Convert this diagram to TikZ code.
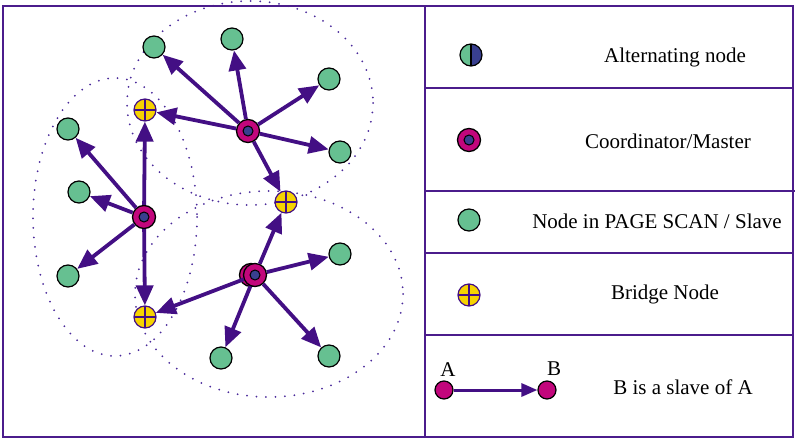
\documentclass[tikz,border=0pt]{standalone}
\usepackage{fontspec}
\setmainfont{Liberation Serif}
\usetikzlibrary{arrows.meta}
\definecolor{linkc}{HTML}{430F84}
\definecolor{rangec}{HTML}{4A2A9A}
\definecolor{slavec}{HTML}{66C091}
\definecolor{masterc}{HTML}{C2067C}
\definecolor{coreb}{HTML}{393F8F}
\definecolor{bridgec}{HTML}{F6D300}
\definecolor{framec}{HTML}{4B1C8C}

\begin{document}
\begin{tikzpicture}[x=1pt, y=-1pt,
    every node/.style={font=\fontsize{21}{24}\selectfont},
    slave/.style={circle, draw=black, fill=slavec, line width=1.2pt,
                  minimum size=22pt, inner sep=0pt},
    master/.style={circle, draw=black, fill=masterc, line width=1.3pt,
                   minimum size=23pt, inner sep=0pt,
                   path picture={\draw[fill=coreb, line width=1pt]
                     (path picture bounding box.center) circle (5pt);}},
    bridge/.style={circle, draw=linkc, fill=bridgec, line width=1.2pt,
                   minimum size=22pt, inner sep=0pt,
                   path picture={\draw[linkc, line width=1.2pt]
                     (path picture bounding box.north) -- (path picture bounding box.south)
                     (path picture bounding box.west) -- (path picture bounding box.east);}},
    alternating/.style={circle, draw=black, fill=slavec, line width=1.2pt,
                   minimum size=22pt, inner sep=0pt,
                   path picture={\fill[coreb] (path picture bounding box.north)
                     rectangle (path picture bounding box.south east);
                     \draw[line width=1.2pt] (path picture bounding box.north)
                     -- (path picture bounding box.south);}},
    link/.style={draw=linkc, line width=3.8pt, -{Triangle[length=20pt, width=17pt]}},
    radiorange/.style={draw=rangec, line width=2pt, line cap=round, dash pattern=on 0pt off 9.5pt},
    frameline/.style={draw=framec, line width=2pt}]
    \useasboundingbox (0,0) rectangle (800,444);

    % radio ranges
    \draw[radiorange] (250,103) ellipse [x radius=123, y radius=102];
    \draw[radiorange] (115,217) ellipse [x radius=82, y radius=139];
    \draw[radiorange] (269,294) ellipse [x radius=134, y radius=103];

    % frame and legend rows
    \draw[frameline] (3,6) rectangle (793,437);
    \draw[frameline] (425,6) -- (425,437);
    \draw[frameline] (425,88) -- (793,88);
    \draw[frameline] (425,191) -- (795,191);
    \draw[frameline] (425,253) -- (793,253);
    \draw[frameline] (425,335) -- (793,335);

    % masters
    \node[master] (m1) at (248,131) {};
    \node[master] (m2) at (144,217) {};
    \node[master] (m3s) at (251,275) {};
    \node[master] (m3) at (255,275) {};

    % bridges
    \node[bridge] (b1) at (145,110) {};
    \node[bridge] (b2) at (286,202) {};
    \node[bridge] (b3) at (145,317) {};

    % slaves
    \node[slave] (s1) at (154,47) {};
    \node[slave] (s2) at (232,39) {};
    \node[slave] (s3) at (329,79) {};
    \node[slave] (s4) at (340,152) {};
    \node[slave] (s5) at (68,129) {};
    \node[slave] (s6) at (79,192) {};
    \node[slave] (s7) at (68,276) {};
    \node[slave] (s8) at (340,254) {};
    \node[slave] (s9) at (221,358) {};
    \node[slave] (s10) at (329,356) {};

    % master -> slave links
    \foreach \t in {s1,s2,s3,s4,b1,b2}
        \draw[link] (m1) -- (\t);
    \foreach \t in {s5,s6,s7,b1,b3}
        \draw[link] (m2) -- (\t);
    \foreach \t in {b2,s8,s9,s10,b3}
        \draw[link] (m3) -- (\t);

    % legend
    \node[alternating] (kalt) at (471,55) {};
    \node (talt) at (675,57) {Alternating node};
    \node[master] (kmas) at (469,140) {};
    \node (tmas) at (668,141) {Coordinator/Master};
    \node[slave] (ksla) at (469,220) {};
    \node (tsla) at (657,221) {Node in PAGE SCAN / Slave};
    \node[bridge] (kbri) at (469,295) {};
    \node (tbri) at (665,294) {Bridge Node};
    \node[circle, draw=black, fill=masterc, line width=1.2pt,
          minimum size=18pt, inner sep=0pt] (ka) at (444,390) {};
    \node[circle, draw=black, fill=masterc, line width=1.2pt,
          minimum size=18pt, inner sep=0pt] (kb) at (547,390) {};
    \node (la) at (448,370) {A};
    \node (lb) at (554,369) {B};
    \draw[draw=linkc, line width=3pt, -{Triangle[length=16pt, width=13pt]}] (ka) -- (kb);
    \node (tab) at (683,387) {B is a slave of A};
\end{tikzpicture}
\end{document}
